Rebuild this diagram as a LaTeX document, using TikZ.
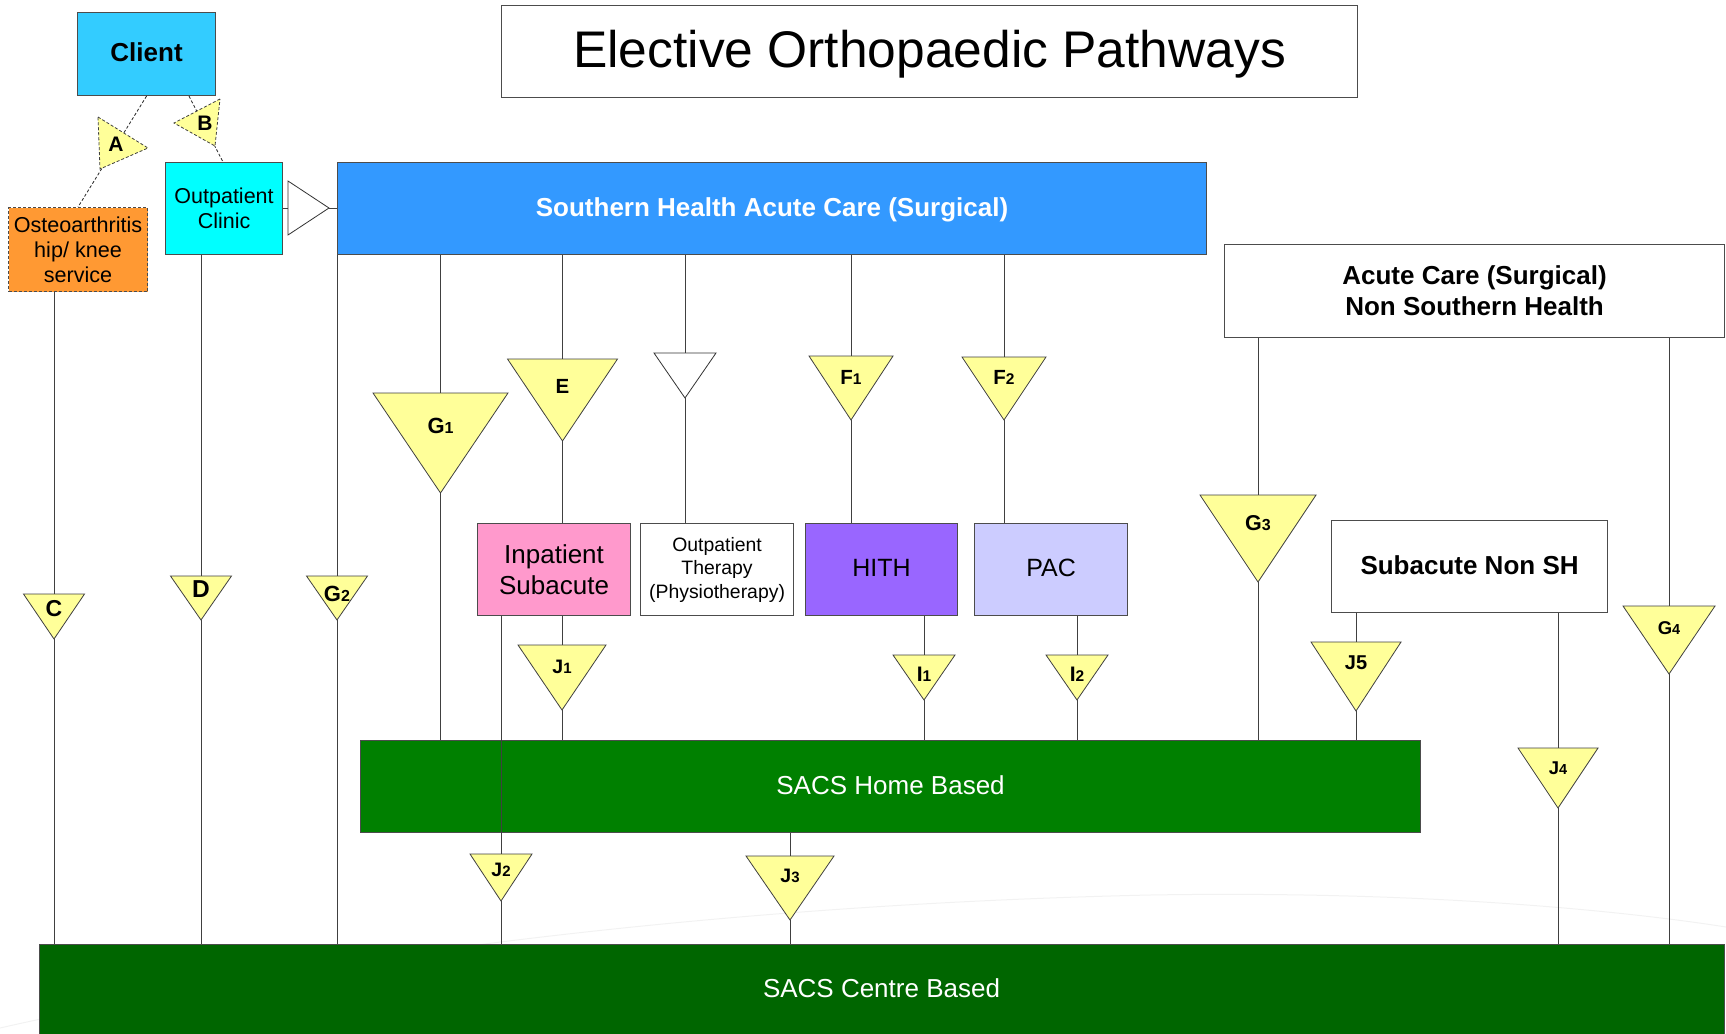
\documentclass[tikz,border=0pt]{standalone}
\usepackage{fontspec}
\setmainfont{Liberation Sans}
\definecolor{clientc}{HTML}{33CCFF}
\definecolor{opcc}{HTML}{00FFFF}
\definecolor{osteoc}{HTML}{FF9933}
\definecolor{shc}{HTML}{3399FF}
\definecolor{triy}{HTML}{FFFF99}
\definecolor{pinkc}{HTML}{FF99CC}
\definecolor{hithc}{HTML}{9966FF}
\definecolor{pacc}{HTML}{CCCCFF}
\definecolor{homec}{HTML}{008000}
\definecolor{centrec}{HTML}{006600}
\newcommand\setfs[2]{\fontsize{#1}{#2}\selectfont}
\newcommand\sdig[2]{{\fontsize{#1}{#1}\selectfont #2}}
% name, cx, top, halfwidth, tip, label-y, fontsize, label
\newcommand\tri[8]{%
  \coordinate (#1-t) at (#2,#3);
  \coordinate (#1-b) at (#2,#5);
  \draw[trist] ({#2-#4},#3) -- ({#2+#4},#3) -- (#2,#5) -- cycle;
  \node[trilab, font=\bfseries\setfs{#7}{#7}] (#1-l) at (#2,#6) {#8};
}
\begin{document}
\begin{tikzpicture}[x=1pt,y=-1pt,
  bx/.style={draw=black!70, line width=1.1pt, inner sep=0pt, align=center, anchor=north west},
  one/.style={text depth=3pt},
  conn/.style={draw=black!75, line width=0.8pt},
  dashline/.style={draw=black!85, line width=0.8pt, dash pattern=on 3pt off 2pt},
  trist/.style={draw=black!75, line width=0.8pt, fill=triy},
  trilab/.style={inner sep=0pt, text depth=0pt}]
\useasboundingbox (0,0) rectangle (1726,1033);

% faint background arc
\draw[gray!10, line width=1pt] (0,1028) .. controls (300,960) and (700,905) .. (1150,895) .. controls (1450,890) and (1650,915) .. (1726,927);

% ---------- boxes ----------
\node[bx, one, fill=clientc, minimum width=138, minimum height=83, font=\bfseries\setfs{26}{31}] (client) at (77,12) {Client};
\node[bx, text depth=5pt, fill=white, minimum width=856, minimum height=92, font=\setfs{51.5}{60}] (title) at (501,5) {Elective Orthopaedic Pathways};
\node[bx, fill=osteoc, dash pattern=on 3pt off 2pt, minimum width=139, minimum height=84, font=\setfs{21.6}{25}] (osteo) at (8,207) {Osteoarthritis\\hip/ knee\\service};
\node[bx, fill=opcc, minimum width=117, minimum height=92, font=\setfs{21.5}{25}] (opc) at (165,162) {Outpatient\\Clinic};
\node[bx, one, fill=shc, text=white, minimum width=869, minimum height=92, font=\bfseries\setfs{26}{31}] (shac) at (337,162) {Southern Health Acute Care (Surgical)};
\node[bx, fill=white, minimum width=500, minimum height=93, font=\bfseries\setfs{26}{31}] (acnsh) at (1224,244) {Acute Care (Surgical)\\Non Southern Health};
\node[bx, fill=pinkc, minimum width=153, minimum height=92, font=\setfs{26}{31.5}] (inp) at (477,523) {Inpatient\\Subacute};
\node[bx, fill=white, minimum width=153, minimum height=92, font=\setfs{19.4}{23.5}] (opt) at (640,523) {Outpatient\\Therapy\\(Physiotherapy)};
\node[bx, one, fill=hithc, minimum width=152, minimum height=92, font=\setfs{25}{30}] (hith) at (805,523) {HITH};
\node[bx, one, fill=pacc, minimum width=153, minimum height=92, font=\setfs{25}{30}] (pac) at (974,523) {PAC};
\node[bx, one, fill=white, minimum width=276, minimum height=92, font=\bfseries\setfs{26}{31}] (subnsh) at (1331,520) {Subacute Non SH};
\node[bx, one, fill=homec, text=white, minimum width=1060, minimum height=92, font=\setfs{26}{31}] (home) at (360,740) {SACS Home Based};
\node[bx, fill=centrec, minimum width=1685, minimum height=105] (centre) at (39,944) {};
\node[text depth=0pt, text=white, inner sep=0pt, font=\setfs{26}{31}] (centretxt) at (881.5,988) {SACS Centre Based};

% ---------- dashed links from Client ----------
\coordinate (bs) at (189,95);
\coordinate (be) at (223,162);
\draw[dashline] (client.south) -- (osteo.north);
\draw[dashline] (client.south -| bs) -- (opc.north -| be);
\draw[trist, dash pattern=on 3pt off 2pt] (98,117) -- (148,148) -- (100,169) -- cycle;
\node[trilab, font=\bfseries\setfs{21}{21}] (A) at (116,144) {A};
\draw[trist, dash pattern=on 3pt off 2pt] (220,99) -- (174,123) -- (215,146) -- cycle;
\node[trilab, font=\bfseries\setfs{21}{21}] (B) at (205,123) {B};

% ---------- white triangle Outpatient Clinic -> Southern Health ----------
\coordinate (wt-l) at (288,208);
\coordinate (wt-r) at (329,208);
\draw[conn] (opc.east |- wt-l) -- (wt-l);
\draw[conn] (wt-r) -- (shac.west |- wt-r);
\draw[draw=black!80, line width=0.8pt, fill=white] (288,181) -- (329,208) -- (288,235) -- cycle;

% ---------- triangles ----------
\tri{C}{54}{594}{30.5}{639}{608}{23}{C}
\tri{D}{201}{576}{30.5}{620}{589}{24.5}{D}
\tri{Gtwo}{337}{576}{30.5}{620}{594}{22}{G\sdig{16}{2}}
\tri{Gone}{440.5}{393}{67.5}{493}{426}{22}{G\sdig{16}{1}}
\tri{E}{562.5}{359}{55}{441}{386}{20.5}{E}
\coordinate (W-t) at (685,353);
\coordinate (W-b) at (685,398);
\draw[draw=black!80, line width=0.8pt, fill=white] (654,353) -- (716,353) -- (685,398) -- cycle;
\tri{Fone}{851}{356}{42}{420}{377}{20.5}{F\sdig{15.5}{1}}
\tri{Ftwo}{1004}{357}{42}{420}{377}{20.5}{F\sdig{15.5}{2}}
\tri{Gthree}{1258}{495}{58}{582}{523}{21.5}{G\sdig{16}{3}}
\tri{Gfour}{1669}{606}{46}{674}{628}{18.5}{G\sdig{14.5}{4}}
\tri{Jone}{562}{645}{44}{710}{667}{19.5}{J\sdig{15}{1}}
\tri{Jtwo}{501}{854}{31}{901}{870}{19.5}{J\sdig{15}{2}}
\tri{Jthree}{790}{856}{44}{920}{876}{19.5}{J\sdig{15}{3}}
\tri{Ione}{924}{655}{31}{700}{674}{21}{I\sdig{15.5}{1}}
\tri{Itwo}{1077}{655}{31}{700}{674}{21}{I\sdig{15.5}{2}}
\tri{Jfive}{1356}{642}{45}{711}{663}{20}{J5}
\tri{Jfour}{1558}{748}{40}{808}{768}{18.5}{J\sdig{14.5}{4}}

% ---------- connectors ----------
\draw[conn] (osteo.south -| C-t) -- (C-t);
\draw[conn] (C-b) -- (C-b |- centre.north);
\draw[conn] (opc.south -| D-t) -- (D-t);
\draw[conn] (D-b) -- (D-b |- centre.north);
\draw[conn] (shac.south west) -- (Gtwo-t);
\draw[conn] (Gtwo-b) -- (Gtwo-b |- centre.north);
\draw[conn] (shac.south -| Gone-t) -- (Gone-t);
\draw[conn] (Gone-b) -- (Gone-b |- home.north);
\draw[conn] (shac.south -| E-t) -- (E-t);
\draw[conn] (E-b) -- (E-b |- inp.north);
\draw[conn] (shac.south -| W-t) -- (W-t);
\draw[conn] (W-b) -- (W-b |- opt.north);
\draw[conn] (shac.south -| Fone-t) -- (Fone-t);
\draw[conn] (Fone-b) -- (Fone-b |- hith.north);
\draw[conn] (shac.south -| Ftwo-t) -- (Ftwo-t);
\draw[conn] (Ftwo-b) -- (Ftwo-b |- pac.north);
\draw[conn] (acnsh.south -| Gthree-t) -- (Gthree-t);
\draw[conn] (Gthree-b) -- (Gthree-b |- home.north);
\draw[conn] (acnsh.south -| Gfour-t) -- (Gfour-t);
\draw[conn] (Gfour-b) -- (Gfour-b |- centre.north);
\draw[conn] (inp.south -| Jone-t) -- (Jone-t);
\draw[conn] (Jone-b) -- (Jone-b |- home.north);
\draw[conn] (inp.south -| Jtwo-t) -- (Jtwo-t);
\draw[conn] (Jtwo-b) -- (Jtwo-b |- centre.north);
\draw[conn] (home.south -| Jthree-t) -- (Jthree-t);
\draw[conn] (Jthree-b) -- (Jthree-b |- centre.north);
\draw[conn] (hith.south -| Ione-t) -- (Ione-t);
\draw[conn] (Ione-b) -- (Ione-b |- home.north);
\draw[conn] (pac.south -| Itwo-t) -- (Itwo-t);
\draw[conn] (Itwo-b) -- (Itwo-b |- home.north);
\draw[conn] (subnsh.south -| Jfive-t) -- (Jfive-t);
\draw[conn] (Jfive-b) -- (Jfive-b |- home.north);
\draw[conn] (subnsh.south -| Jfour-t) -- (Jfour-t);
\draw[conn] (Jfour-b) -- (Jfour-b |- centre.north);
\end{tikzpicture}
\end{document}
